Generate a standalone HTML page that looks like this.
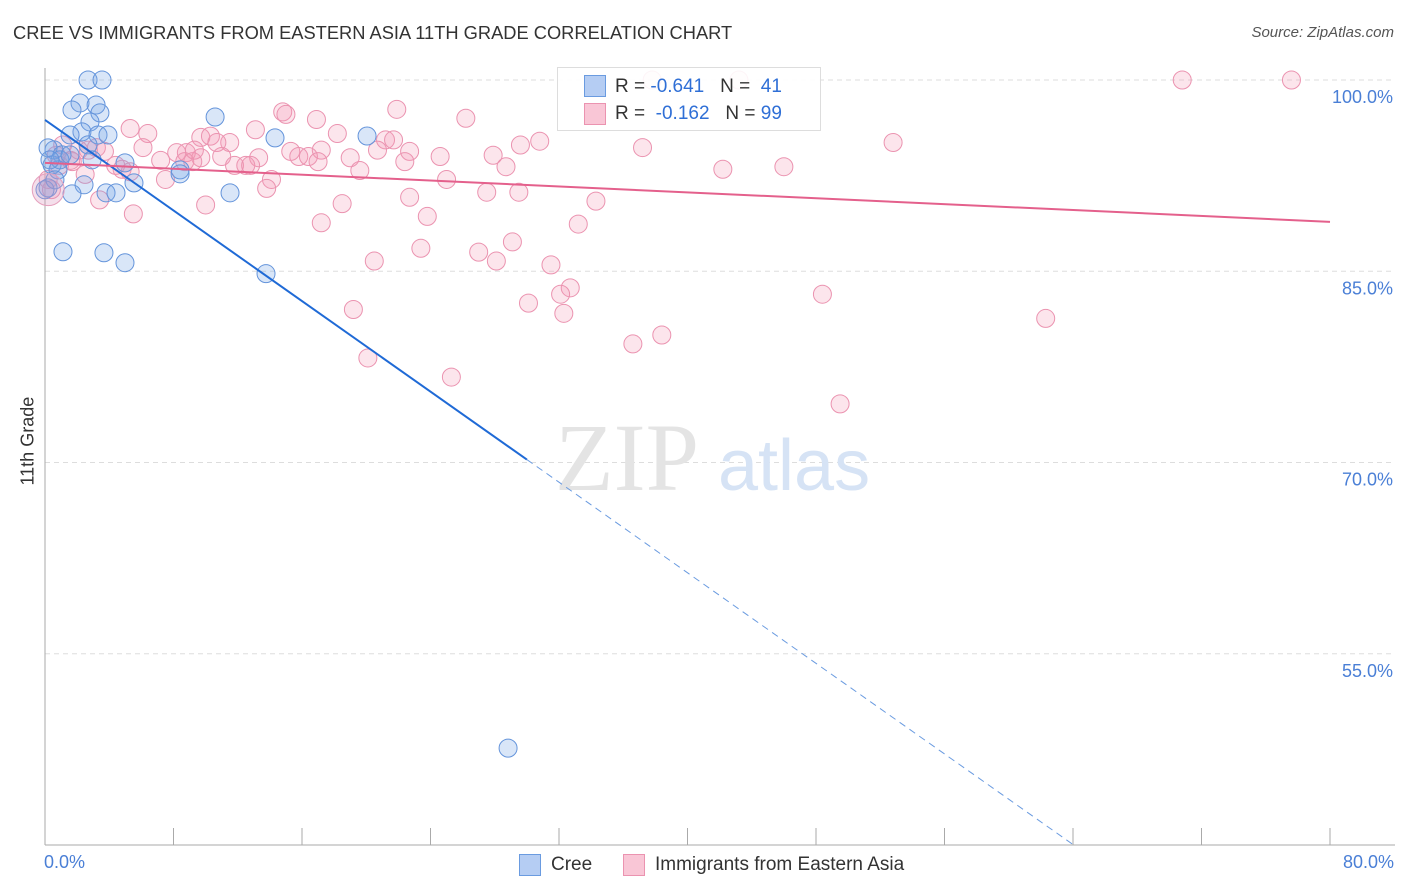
<!DOCTYPE html>
<html><head><meta charset="utf-8"><style>
body{margin:0;background:#fff;font-family:"Liberation Sans",sans-serif}
#wrap{position:relative;width:1406px;height:892px;overflow:hidden}
.t{position:absolute;white-space:nowrap}
</style></head><body>
<div id="wrap">
<div class="t" style="left:13px;top:22px;font-size:18.3px;color:#333">CREE VS IMMIGRANTS FROM EASTERN ASIA 11TH GRADE CORRELATION CHART</div>
<div class="t" style="right:12px;top:24px;font-size:15px;color:#555;font-style:italic">Source: ZipAtlas.com</div>
<svg id="svg" width="1406" height="892" style="position:absolute;left:0;top:0"></svg>
</div>
<script>
const blueX=[2.68,3.55,2.18,3.18,1.68,3.42,2.80,10.59,2.30,1.56,3.30,3.92,14.32,20.05,0.56,2.68,0.19,1.06,2.93,4.98,0.44,8.41,8.41,0.81,2.43,5.54,1.68,3.80,4.42,11.52,0.19,1.12,3.67,4.98,13.76,28.83,0,0.93,1.56,0.62,0.31];
const blueY=[100,100,98.2,98.04,97.65,97.42,96.71,97.1,95.93,95.69,95.69,95.69,95.46,95.61,94.52,94.91,94.68,94.13,93.74,93.5,93.34,92.95,92.64,92.95,91.78,91.93,91.07,91.15,91.15,91.15,91.54,86.53,86.45,85.67,84.81,47.6,91.39,93.74,94.13,92.17,93.74];
const pinkX=[70.8,77.6,37.8,43.2,14.8,15.0,21.9,16.9,26.2,5.3,6.4,13.1,18.2,9.7,10.3,11.5,30.8,52.8,10.7,1.1,3.2,6.1,21.2,21.7,22.7,24.6,29.6,37.2,15.3,17.2,20.7,8.2,8.8,3.7,2.1,7.2,9.7,11.0,13.3,8.7,9.2,19.0,15.8,16.4,27.9,11.8,12.5,22.4,28.7,42.2,46.0,4.8,19.6,1.7,7.5,14.1,25.0,13.8,27.5,29.5,22.7,34.3,3.4,10.0,18.5,5.5,23.8,17.2,33.2,29.1,23.4,27.0,28.1,20.5,31.5,32.7,32.1,48.4,30.1,19.2,32.3,62.3,38.4,36.6,20.1,25.3,49.5,0.4,0.9,1.6,2.7,0.7,4.4,5.3,12.8,9.3,17.0,0.2,2.5];
const pinkY=[100,100,100,100,97.5,97.3,97.7,96.9,97.0,96.2,95.8,96.1,95.8,95.5,95.6,95.1,95.2,95.1,95.1,94.9,94.7,94.7,95.3,95.3,94.4,94.0,94.9,94.7,94.4,94.5,94.5,94.3,94.3,94.4,94.5,93.7,93.9,94.0,93.9,93.6,93.6,93.9,94.0,94.0,94.1,93.3,93.3,93.6,93.2,93.0,93.2,93.0,92.9,93.6,92.2,92.2,92.2,91.5,91.2,91.2,90.8,90.5,90.6,90.2,90.3,89.5,89.3,88.8,88.7,87.3,86.8,86.5,85.8,85.8,85.5,83.7,83.2,83.2,82.5,82.0,81.7,81.3,80.0,79.3,78.2,76.7,74.6,91.4,93.3,93.7,94.5,94.1,93.3,92.8,93.3,94.5,93.6,92.2,92.6];
const blueFit=[96.87,-0.888];
const pinkFit=[93.5,-0.0578];
const yTicks=[100,85,70,55];
const yTickLabels=["100.0%","85.0%","70.0%","55.0%"];
const xTicks=[0,8,16,24,32,40,48,56,64,72,80];

const X=v=>45+v*1285/80, Y=v=>80+(100-v)*765/60;
const svg=document.getElementById('svg'),NS='http://www.w3.org/2000/svg';
function mk(tag,a,name){const e=document.createElementNS(NS,tag);for(const k in a)e.setAttribute(k,a[k]);


svg.appendChild(e);return e;}
yTicks.forEach((v,i)=>{
 mk('line',{x1:45,x2:1395,y1:Y(v),y2:Y(v),stroke:'#ddd','stroke-dasharray':'5,4'},'y-gridline');
 const t=mk('text',{x:1393,y:Y(v)+23,'text-anchor':'end','font-size':18,fill:'#4a7fd6','font-family':'Liberation Sans'},'y-tick-label');t.textContent=yTickLabels[i];
});
mk('line',{x1:45,x2:45,y1:68,y2:845,stroke:'#aaa'},'y-axis-line');
mk('line',{x1:45,x2:1395,y1:845,y2:845,stroke:'#aaa'},'x-axis-line');
xTicks.forEach(v=>mk('line',{x1:X(v),x2:X(v),y1:828,y2:845,stroke:'#aaa'},'x-tick'));
let w=mk('text',{x:555,y:490,'font-size':96,fill:'#e4e4e4','font-family':'Liberation Serif'},'watermark-zip');w.textContent='ZIP';
w=mk('text',{x:718,y:490,'font-size':72,fill:'#d6e3f5','font-family':'Liberation Sans'},'watermark-atlas');w.textContent='atlas';
pinkX.forEach((x,i)=>mk('circle',{cx:X(x),cy:Y(pinkY[i]),r:9,fill:'rgba(244,150,180,0.25)',stroke:'#eb93b0','stroke-width':1},'pink-point'));
blueX.forEach((x,i)=>mk('circle',{cx:X(x),cy:Y(blueY[i]),r:9,fill:'rgba(120,165,230,0.28)',stroke:'#6494db','stroke-width':1},'blue-point'));
mk('circle',{cx:X(0.2),cy:Y(91.4),r:16,fill:'rgba(220,150,190,0.3)',stroke:'#e5a0bd'},'pink-point-large');
const bf=x=>blueFit[0]+blueFit[1]*x;
mk('line',{x1:X(0),y1:Y(bf(0)),x2:X(30),y2:Y(bf(30)),stroke:'#1f6ad6','stroke-width':2},'cree-trendline');
const xe=(40-blueFit[0])/blueFit[1];
mk('line',{x1:X(30),y1:Y(bf(30)),x2:X(xe),y2:Y(40),stroke:'#6a9be0','stroke-width':1,'stroke-dasharray':'7,5'},'cree-trendline-extension');
mk('line',{x1:X(0),y1:Y(pinkFit[0]),x2:X(80),y2:Y(pinkFit[0]+pinkFit[1]*80),stroke:'#e4608c','stroke-width':2},'immigrants-trendline');
</script>
<div class="t" style="left:44px;top:852px;font-size:18px;color:#4a7fd6">0.0%</div>
<div class="t" style="right:12px;top:852px;font-size:18px;color:#4a7fd6">80.0%</div>
<div class="t" style="left:-2px;top:445px;font-size:18px;color:#333;transform:rotate(-90deg);transform-origin:center;width:60px;text-align:center">11th Grade</div>
<div style="position:absolute;left:557px;top:67px;width:262px;height:62px;border:1px solid #ddd;background:rgba(255,255,255,.9);font-size:19px">
 <div style="position:absolute;left:26px;top:7px;width:20px;height:20px;background:#b5cdf3;border:1px solid #6a9be0"></div>
 <div class="t" style="left:57px;top:8px;color:#333">R = <span style="color:#2f6fd6">-0.641</span>&nbsp;&nbsp;&nbsp;N = &nbsp;<span style="color:#2f6fd6">41</span></div>
 <div style="position:absolute;left:26px;top:35px;width:20px;height:20px;background:#f9c6d6;border:1px solid #eb93b0"></div>
 <div class="t" style="left:57px;top:35px;color:#333">R = &nbsp;<span style="color:#2f6fd6">-0.162</span>&nbsp;&nbsp;&nbsp;N = <span style="color:#2f6fd6">99</span></div>
</div>
<div style="position:absolute;left:519px;top:854px;width:20px;height:20px;background:#b5cdf3;border:1px solid #6a9be0"></div>
<div class="t" style="left:551px;top:854px;font-size:19px;color:#333">Cree</div>
<div style="position:absolute;left:623px;top:854px;width:20px;height:20px;background:#f9c6d6;border:1px solid #eb93b0"></div>
<div class="t" style="left:655px;top:854px;font-size:19px;color:#333">Immigrants from Eastern Asia</div>
</body></html>
